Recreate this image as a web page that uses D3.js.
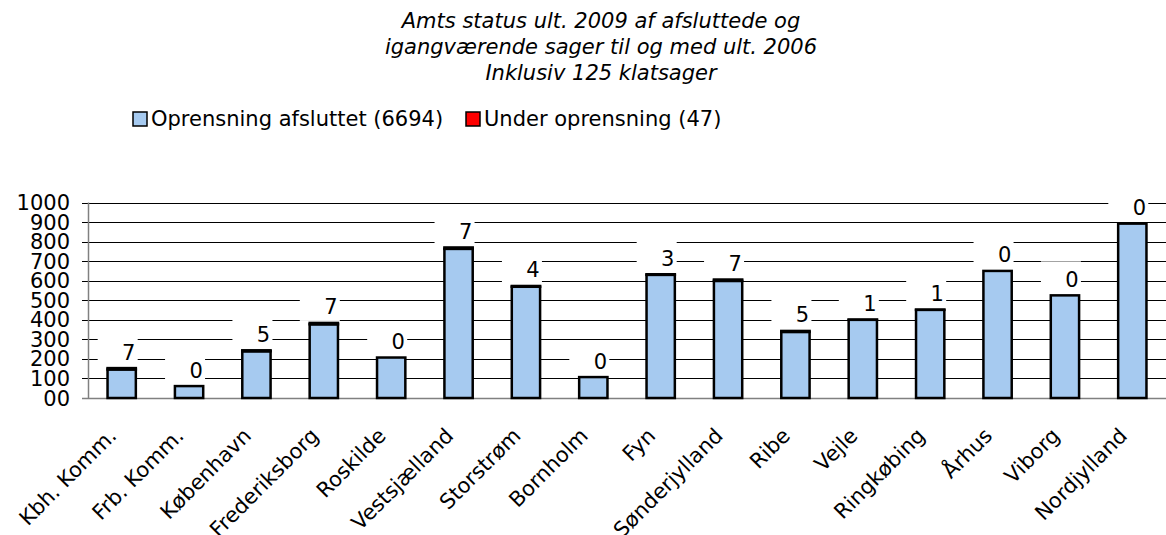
<!DOCTYPE html>
<html lang="da">
  <head>
    <meta charset="utf-8">
    <title>Amts status ult. 2009</title>
    <script src="https://cdnjs.cloudflare.com/ajax/libs/d3/7.8.5/d3.min.js"></script>
    <style type="text/css">
      body { margin: 0; background: #fff; }
      svg { display: block; font-family: 'DejaVu Sans', Verdana, sans-serif; }
      .title { font-size: 21px; font-style: italic; fill: #000; }
      .legend text, .tick-label, .cat-label, .data-label { font-size: 21px; fill: #000; }
    </style>
  </head>
  <body>
    <svg id="chart"></svg>
    <script type="text/javascript">
// data
var regions = ["Kbh. Komm.", "Frb. Komm.", "København", "Frederiksborg", "Roskilde", "Vestsjælland",
  "Storstrøm", "Bornholm", "Fyn", "Sønderjylland", "Ribe", "Vejle", "Ringkøbing", "Århus", "Viborg", "Nordjylland"];
var afsluttet = [146, 61, 239, 377, 207, 763, 569, 107, 630, 599, 338, 400, 451, 650, 525, 892];
var underOprensning = [7, 0, 5, 7, 0, 7, 4, 0, 3, 7, 5, 1, 1, 0, 0, 0];
var seriesNames = ["Oprensning afsluttet (6694)", "Under oprensning (47)"];
var seriesColors = ["#a6caf0", "#ff0000"];
var yTicks = [0, 100, 200, 300, 400, 500, 600, 700, 800, 900, 1000];
var yTickLabels = ["00", "100", "200", "300", "400", "500", "600", "700", "800", "900", "1000"];
var titleLines = ["Amts status ult. 2009 af afsluttede og", "igangværende sager til og med ult. 2006", "Inklusiv 125 klatsager"];

var w = 1166, h = 535;
var plotLeft = 88, plotRight = 1166, plotTop = 202.5, plotBottom = 398;

var svg = d3.select("#chart").attr("width", w).attr("height", h);

var rows = regions.map(function(r, i) {
  return { region: r, a: afsluttet[i], u: underOprensning[i] };
});
var stacked = d3.stack().keys(["a", "u"])(rows);

var x = d3.scaleBand().domain(regions).range([plotLeft, plotRight]).paddingInner(0.58).paddingOuter(0.29);
var y = d3.scaleLinear().domain([0, 1000]).range([plotBottom, plotTop]);

// title
svg.append("g").selectAll("text")
  .data(titleLines).enter().append("text")
  .attr("class", "title")
  .attr("x", 601)
  .attr("y", function(d, i) { return 28 + i * 26; })
  .attr("text-anchor", "middle")
  .text(function(d) { return d; });

// legend
var legend = svg.append("g").attr("class", "legend");
var legendX = [133, 466];
seriesNames.forEach(function(name, i) {
  legend.append("rect")
    .attr("x", legendX[i]).attr("y", 112)
    .attr("width", 14).attr("height", 14)
    .attr("fill", seriesColors[i])
    .attr("stroke", "#000").attr("stroke-width", 1.5);
  legend.append("text")
    .attr("x", legendX[i] + 18).attr("y", 126)
    .text(name);
});

// gridlines
svg.append("g").selectAll("line")
  .data(yTicks.slice(1)).enter().append("line")
  .attr("x1", plotLeft - 6).attr("x2", plotRight)
  .attr("y1", function(d) { return Math.round(y(d)) + 0.5; })
  .attr("y2", function(d) { return Math.round(y(d)) + 0.5; })
  .attr("stroke", "#000").attr("stroke-width", 1);

// y axis
var yAxis = svg.append("g");
yAxis.append("line")
  .attr("x1", plotLeft + 0.5).attr("x2", plotLeft + 0.5)
  .attr("y1", y(1000)).attr("y2", plotBottom)
  .attr("stroke", "#808080").attr("stroke-width", 1.5);
yAxis.append("line")
  .attr("x1", plotLeft - 6).attr("x2", plotRight)
  .attr("y1", Math.round(plotBottom) + 0.5).attr("y2", Math.round(plotBottom) + 0.5)
  .attr("stroke", "#808080").attr("stroke-width", 1.5);
yAxis.selectAll("text")
  .data(yTicks).enter().append("text")
  .attr("class", "tick-label")
  .attr("x", 70)
  .attr("y", function(d) { return y(d) + 7.5; })
  .attr("text-anchor", "end")
  .text(function(d, i) { return yTickLabels[i]; });

// bars
svg.append("g").selectAll("g")
  .data(stacked).enter().append("g")
  .attr("fill", function(d, i) { return seriesColors[i]; })
  .selectAll("rect")
  .data(function(d) { return d; }).enter().append("rect")
  .attr("x", function(d) { return x(d.data.region); })
  .attr("width", x.bandwidth())
  .attr("y", function(d) { return y(d[1]); })
  .attr("height", function(d) { return y(d[0]) - y(d[1]); })
  .attr("stroke", "#000").attr("stroke-width", 2.5);

// data labels (white boxes cut the gridlines)
var labels = svg.append("g").selectAll("g")
  .data(rows).enter().append("g")
  .attr("transform", function(d) {
    return "translate(" + (x(d.region) + x.bandwidth() / 2 + 7) + "," + (y(d.a + d.u) - 16) + ")";
  });
labels.append("rect")
  .attr("x", -31).attr("y", -18)
  .attr("width", 40).attr("height", 32)
  .attr("fill", "#fff");
labels.append("text")
  .attr("class", "data-label")
  .attr("text-anchor", "middle")
  .attr("y", 7.5)
  .text(function(d) { return d.u; });

// category labels
svg.append("g").selectAll("text")
  .data(regions).enter().append("text")
  .attr("class", "cat-label")
  .attr("text-anchor", "end")
  .attr("transform", function(d) {
    return "translate(" + (x(d) + x.bandwidth() / 2 - 4) + "," + 437 + ") rotate(-45)";
  })
  .text(function(d) { return d; });
    </script>
  </body>
</html>
